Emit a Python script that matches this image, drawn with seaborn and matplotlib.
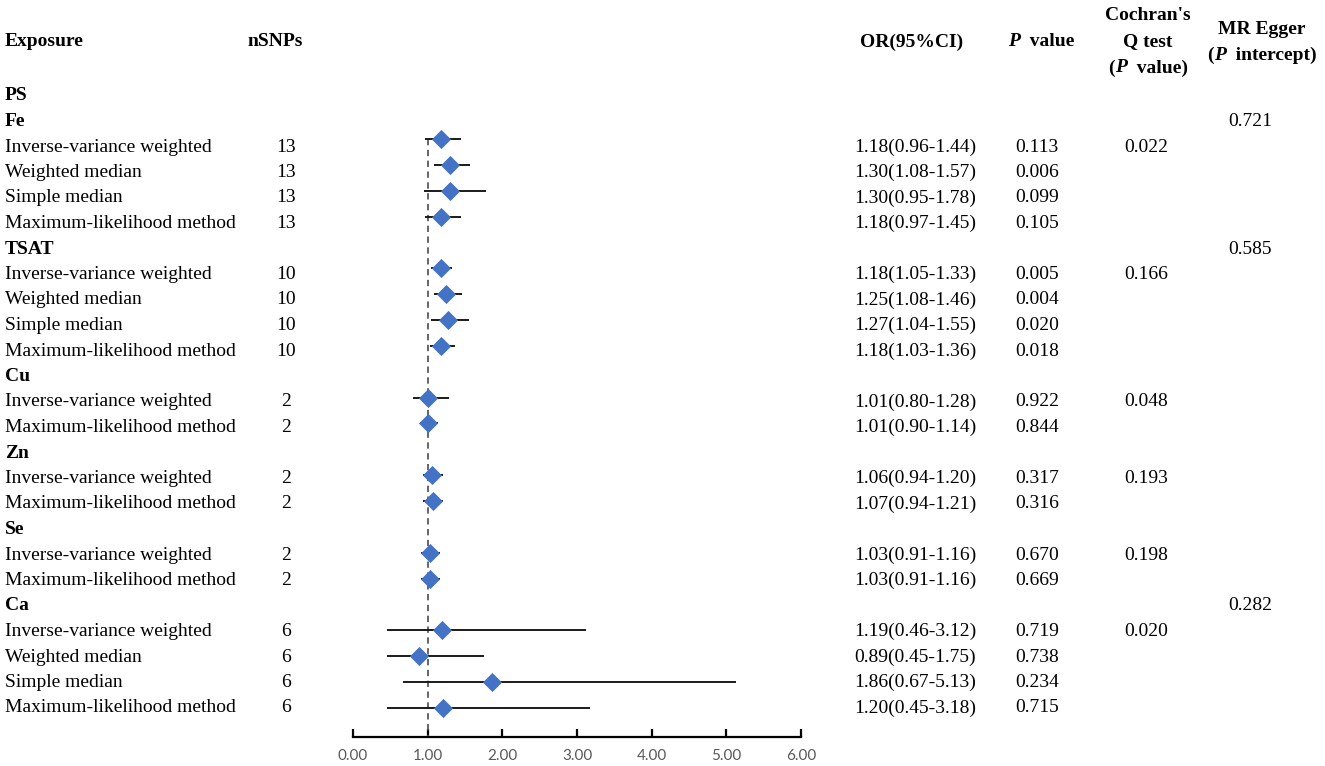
import matplotlib
matplotlib.use("Agg")
import matplotlib.pyplot as plt
from matplotlib import font_manager as fm
import seaborn as sns
import pandas as pd
import numpy as np

# ---------------- data ----------------
groups = ["Fe", "TSAT", "Cu", "Zn", "Se", "Ca"]
group_methods = [
    ["Inverse-variance weighted", "Weighted median", "Simple median", "Maximum-likelihood method"],
    ["Inverse-variance weighted", "Weighted median", "Simple median", "Maximum-likelihood method"],
    ["Inverse-variance weighted", "Maximum-likelihood method"],
    ["Inverse-variance weighted", "Maximum-likelihood method"],
    ["Inverse-variance weighted", "Maximum-likelihood method"],
    ["Inverse-variance weighted", "Weighted median", "Simple median", "Maximum-likelihood method"],
]
nsnps = [13, 13, 13, 13, 10, 10, 10, 10, 2, 2, 2, 2, 2, 2, 6, 6, 6, 6]
or_vals = [1.18, 1.30, 1.30, 1.18, 1.18, 1.25, 1.27, 1.18, 1.01, 1.01, 1.06, 1.07, 1.03, 1.03, 1.19, 0.89, 1.86, 1.20]
ci_low = [0.96, 1.08, 0.95, 0.97, 1.05, 1.08, 1.04, 1.03, 0.80, 0.90, 0.94, 0.94, 0.91, 0.91, 0.46, 0.45, 0.67, 0.45]
ci_high = [1.44, 1.57, 1.78, 1.45, 1.33, 1.46, 1.55, 1.36, 1.28, 1.14, 1.20, 1.21, 1.16, 1.16, 3.12, 1.75, 5.13, 3.18]
p_vals = ["0.113", "0.006", "0.099", "0.105", "0.005", "0.004", "0.020", "0.018", "0.922", "0.844",
          "0.317", "0.316", "0.670", "0.669", "0.719", "0.738", "0.234", "0.715"]
cochran_q = ["0.022", "0.166", "0.048", "0.193", "0.198", "0.020"]   # one per group (IVW row)
egger_int = ["0.721", "0.585", "", "", "", "0.282"]                  # one per group (group row)
x_ticks = [0, 1, 2, 3, 4, 5, 6]
tick_labels = ["0.00", "1.00", "2.00", "3.00", "4.00", "5.00", "6.00"]

# ---------------- build table rows ----------------
rows = [("PS", "title")]
k = 0
est_rows = []
for gi, g in enumerate(groups):
    rows.append((g, "group", gi))
    for mi, m in enumerate(group_methods[gi]):
        rows.append((m, "est", gi, mi, k))
        est_rows.append(len(rows) - 1)
        k += 1

df = pd.DataFrame({
    "row": est_rows,
    "or": or_vals,
    "lo": ci_low,
    "hi": ci_high,
})

# ---------------- fonts ----------------
sns.set_theme(style="white")
plt.rcParams["font.family"] = ["Liberation Serif", "DejaVu Serif"]

fs = 14
def fp(weight="normal", style="normal"):
    path = fm.findfont(fm.FontProperties(family="Liberation Serif", weight=weight, style=style))
    return fm.FontProperties(fname=path, size=fs)

FP_R = fp()
FP_B = fp("bold")
FP_BI = fp("bold", "italic")

# ---------------- figure ----------------
W, H = 1325, 766
fig = plt.figure(figsize=(W / 100, H / 100), dpi=100)
fig.patch.set_facecolor("white")

tax = fig.add_axes([0, 0, 1, 1])
tax.set_xlim(0, W)
tax.set_ylim(H, 0)
tax.axis("off")

row_y0, row_dy = 96, 25.5
def ry(i):
    return row_y0 + row_dy * i

def T(x, y, s, prop=FP_R, ha="left"):
    return tax.text(x, y, s, fontproperties=prop, ha=ha, va="center", color="black")

renderer = fig.canvas.get_renderer()
def rich(xc, y, parts):
    arts = [T(0, y, s, prop) for s, prop in parts]
    widths = [a.get_window_extent(renderer).width for a in arts]
    x = xc - sum(widths) / 2
    for a, w in zip(arts, widths):
        a.set_x(x)
        x += w

# headers
T(5, 42, "Exposure", FP_B)
T(248, 42, "nSNPs", FP_B)
T(912, 42, "OR(95%CI)", FP_B, ha="center")
rich(1041, 42, [("P", FP_BI), ("  value", FP_B)])
T(1148, 16, "Cochran's", FP_B, ha="center")
T(1148, 42, "Q test", FP_B, ha="center")
rich(1148, 68, [("(", FP_B), ("P", FP_BI), ("  value)", FP_B)])
T(1262, 29, "MR Egger", FP_B, ha="center")
rich(1262, 55, [("(", FP_B), ("P", FP_BI), ("  intercept)", FP_B)])

for i, r in enumerate(rows):
    y = ry(i)
    if r[1] == "title":
        T(5, y, r[0], FP_B)
    elif r[1] == "group":
        T(5, y, r[0], FP_B)
        if egger_int[r[2]]:
            T(1250, y, egger_int[r[2]], ha="center")
    else:
        gi, mi, kk = r[2], r[3], r[4]
        T(5, y, r[0])
        T(286, y, str(nsnps[kk]), ha="center")
        T(915, y, f"{or_vals[kk]:.2f}({ci_low[kk]:.2f}-{ci_high[kk]:.2f})", ha="center")
        T(1037, y, p_vals[kk], ha="center")
        if mi == 0:
            T(1146, y, cochran_q[gi], ha="center")

# ---------------- forest axes ----------------
x0_px, x1_px, axis_px = 353, 801, 737
m_y0, m_dy = 139, 25.86   # marker row for first estimate row
first = est_rows[0]
ytop = (0 - m_y0) / m_dy + first
ybot = (axis_px - m_y0) / m_dy + first
fax = fig.add_axes([x0_px / W, (H - axis_px) / H, (x1_px - x0_px) / W, axis_px / H])
fax.set_facecolor("none")
fax.set_xlim(0, 6)
fax.set_ylim(ybot, ytop)

fax.vlines(1, first, ybot, colors="#595959", linestyles=(0, (3.5, 2.5)), lw=1.3, zorder=1)
fax.hlines(df["row"], df["lo"], df["hi"], colors="#1a1a1a", lw=1.4, zorder=2)
sns.scatterplot(data=df, x="or", y="row", ax=fax, marker="D", s=95, color="#4472C4",
                edgecolor="#4472C4", linewidth=0, zorder=3, legend=False)

for s in ["top", "left", "right"]:
    fax.spines[s].set_visible(False)
fax.spines["bottom"].set_color("black")
fax.spines["bottom"].set_linewidth(1.6)
fax.set_yticks([])
fax.set_xticks(x_ticks)
fax.set_xticklabels(tick_labels, family=["Lato", "DejaVu Sans"], fontsize=11, color="#595959")
fax.tick_params(axis="x", direction="in", length=6, width=1.6, color="black", pad=9, bottom=True)
fax.set_xlabel("")
fax.set_ylabel("")

fig.savefig("out.png", dpi=100, facecolor="white")
